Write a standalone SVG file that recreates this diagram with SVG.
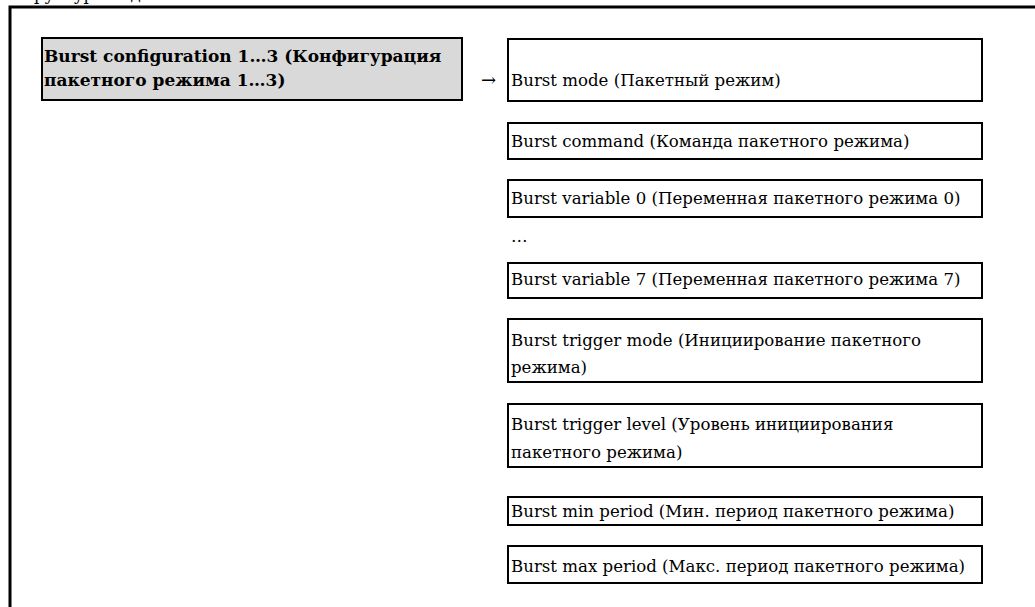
<svg xmlns="http://www.w3.org/2000/svg" width="1035" height="607" viewBox="0 0 1035 607">
<style>
.t{font-family:"DejaVu Serif","Liberation Serif",serif;font-size:16.6px;fill:#000}
.b{font-weight:bold;font-size:17px}
.box{fill:#fff;stroke:#000;stroke-width:2}
.main{fill:#d9d9d9;stroke:#000;stroke-width:2}
</style>
<rect x="0" y="0" width="1035" height="607" fill="#fff"/>
<text class="t" x="12" y="0">Структура подменю</text>
<polyline points="10,607 10,7 1035,7" fill="none" stroke="#000" stroke-width="3"/>
<g id="main">
<rect class="main" x="42" y="38" width="420" height="62"/>
<text class="t b" x="44" y="62">Burst configuration 1…3 (Конфигурация</text>
<text class="t b" x="44" y="86">пакетного режима 1…3)</text>
</g>
<g id="connectors">
<text class="t" x="481" y="86" style="font-size:18px">→</text>
</g>
<g id="n1"><rect class="box" x="508" y="39" width="474" height="62"/><text class="t" x="511" y="86">Burst mode (Пакетный режим)</text></g>
<g id="n2"><rect class="box" x="508" y="123" width="474" height="36"/><text class="t" x="511" y="147">Burst command (Команда пакетного режима)</text></g>
<g id="n3"><rect class="box" x="508" y="180" width="474" height="37"/><text class="t" x="511" y="204">Burst variable 0 (Переменная пакетного режима 0)</text></g>
<text class="t" x="511" y="242">…</text>
<g id="n4"><rect class="box" x="508" y="263" width="474" height="35"/><text class="t" x="511" y="285">Burst variable 7 (Переменная пакетного режима 7)</text></g>
<g id="n5"><rect class="box" x="508" y="319" width="474" height="63"/><text class="t" x="511" y="346">Burst trigger mode (Инициирование пакетного</text><text class="t" x="511" y="373">режима)</text></g>
<g id="n6"><rect class="box" x="508" y="404" width="474" height="63"/><text class="t" x="511" y="430">Burst trigger level (Уровень инициирования</text><text class="t" x="511" y="458">пакетного режима)</text></g>
<g id="n7"><rect class="box" x="508" y="497" width="474" height="28"/><text class="t" x="511" y="517">Burst min period (Мин. период пакетного режима)</text></g>
<g id="n8"><rect class="box" x="508" y="546" width="474" height="37"/><text class="t" x="511" y="572">Burst max period (Макс. период пакетного режима)</text></g>
</svg>
